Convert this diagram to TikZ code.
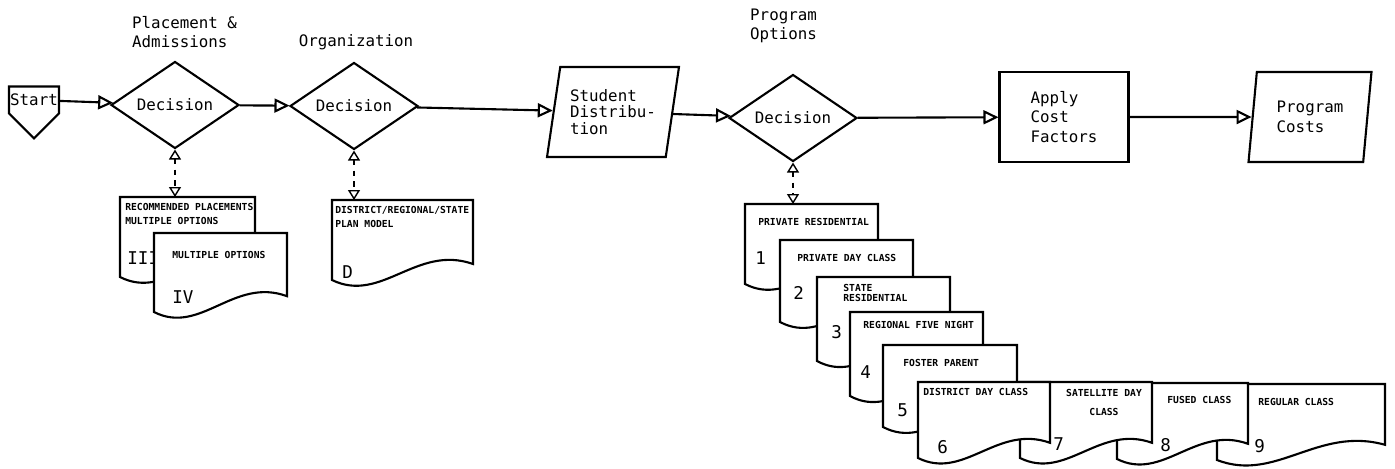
\documentclass[tikz,border=0pt]{standalone}
\usepackage{fontspec}
\setmonofont{DejaVu Sans Mono}
\usepackage{tikz}
\usetikzlibrary{arrows.meta,positioning,shapes.geometric,shapes.symbols,calc}
\tikzset{
    every node/.style={font=\ttfamily\fontsize{9}{11}\selectfont}
}

% sheet with a wavy lower edge: name, top left corner, width, height
\newcommand{\sheet}[4]{%
    \path (#2) coordinate (#1);
    \filldraw[sheetline] (#1) -- ++(#3,0) -- ++(0,{0.8*#4})
        .. controls +({-0.4*#3},{-0.25*#4}) and +({0.35*#3},{0.3*#4}) .. ($(#1)+(0,#4)$) -- cycle;
}

\begin{document}
\begin{tikzpicture}[
    x=0.02cm, y=-0.02cm,
    decision/.style={
        diamond,
        draw,
        line width=1.2pt,
        aspect=1.47,
        inner sep=0pt,
        minimum width=2.56cm,
        minimum height=1.74cm
    },
    iobox/.style={
        trapezium,
        trapezium left angle=77,
        trapezium right angle=103,
        trapezium stretches body,
        draw,
        line width=1.2pt,
        align=left,
        minimum height=1.8cm
    },
    process/.style={
        rectangle,
        draw,
        line width=1.2pt,
        align=left,
        minimum width=2.58cm,
        minimum height=1.8cm
    },
    startbox/.style={
        signal,
        signal to=south,
        draw,
        line width=1.2pt,
        inner xsep=0.5pt,
        inner ysep=0.15cm,
        minimum width=1.0cm
    },
    sheetline/.style={
        draw,
        fill=white,
        line width=1.2pt
    },
    sheettext/.style={
        anchor=west,
        inner sep=0pt,
        align=left,
        font=\ttfamily\bfseries\fontsize{5.5}{7.8}\selectfont
    },
    sheetnum/.style={
        anchor=west,
        inner sep=0pt,
        font=\ttfamily\fontsize{10}{12}\selectfont
    },
    heading/.style={
        align=left
    },
    flow/.style={
        -{Triangle[open,length=0.3cm,width=0.28cm]},
        line width=1.2pt
    },
    link/.style={
        {Triangle[open,length=0.2cm,width=0.24cm]}-{Triangle[open,length=0.2cm,width=0.24cm]},
        dashed,
        line width=0.8pt
    }
]
\useasboundingbox (0,0) rectangle (1395,468);

% Main line
\node[startbox] (start) at (34,100) {Start};
\node[decision] (pa) at (175,105) {Decision};
\node[decision] (org) at (354,106) {Decision};
\node[iobox, minimum width=2.64cm] (stud) at (613,112) {Student\\[-1.5pt]Distribu-\\[-1.5pt]tion};
\node[decision] (opts) at (793,118) {Decision};
\node[process] (apply) at (1064,117) {Apply\\Cost\\Factors};
\node[iobox, minimum width=2.46cm, trapezium left angle=79, trapezium right angle=101] (costs) at (1310,117) {Program\\Costs};

% Headings
\node[heading, anchor=west] (paTitle) at (126,32) {Placement \&\\Admissions};
\node[heading] (orgTitle) at (356,42) {Organization};
\node[heading, anchor=west] (optTitle) at (744,26) {Program\\Options};

\draw[flow] (start) -- (pa);
\draw[flow] (pa) -- (org);
\draw[flow] (org) -- (stud);
\draw[flow] (stud) -- (opts);
\draw[flow] (opts) -- (apply);
\draw[flow] (apply) -- (costs);

% Placement sheets
\sheet{recIII}{120,197}{135}{80}
\node[sheettext] (recText) at (125,214) {RECOMMENDED PLACEMENTS\\MULTIPLE OPTIONS};
\node[sheetnum] (recNum) at (127,258) {III};
\sheet{multIV}{154,233}{133}{79}
\node[sheettext] (multText) at (172,255) {MULTIPLE OPTIONS};
\node[sheetnum] (multNum) at (172,297) {IV};

% Organization sheet
\sheet{planD}{332,200}{141}{80}
\node[sheettext] (planText) at (335,217) {DISTRICT/REGIONAL/STATE\\PLAN MODEL};
\node[sheetnum] (planNum) at (342,272) {D};

% Program option sheets
\sheet{sh1}{745,204}{133}{80}
\node[sheettext] (sh1Text) at (758,222) {PRIVATE RESIDENTIAL};
\node[sheetnum] (sh1Num) at (755,258) {1};
\sheet{sh2}{780,240}{133}{82}
\node[sheettext] (sh2Text) at (797,258) {PRIVATE DAY CLASS};
\node[sheetnum] (sh2Num) at (793,293) {2};
\sheet{sh3}{817,277}{133}{84}
\node[sheettext] (sh3Text) at (843,293) {STATE\\[-2pt]RESIDENTIAL};
\node[sheetnum] (sh3Num) at (831,332) {3};
\sheet{sh4}{850,312}{133}{84}
\node[sheettext] (sh4Text) at (863,325) {REGIONAL FIVE NIGHT};
\node[sheetnum] (sh4Num) at (860,372) {4};
\sheet{sh5}{883,345}{134}{82}
\node[sheettext] (sh5Text) at (903,363) {FOSTER PARENT};
\node[sheetnum] (sh5Num) at (897,410) {5};
\sheet{sh9}{1217,384}{168}{76}
\node[sheettext] (sh9Text) at (1258,402) {REGULAR CLASS};
\node[sheetnum] (sh9Num) at (1254,446) {9};
\sheet{sh8}{1117,383}{131}{76}
\node[sheettext] (sh8Text) at (1167,400) {FUSED CLASS};
\node[sheetnum] (sh8Num) at (1160,445) {8};
\sheet{sh7}{1020,382}{132}{76}
\node[sheettext, anchor=center, align=center] (sh7Text) at (1104,402) {SATELLITE DAY\\[3pt]CLASS};
\node[sheetnum] (sh7Num) at (1053,444) {7};
\sheet{sh6}{918,382}{132}{76}
\node[sheettext] (sh6Text) at (923,392) {DISTRICT DAY CLASS};
\node[sheetnum] (sh6Num) at (937,447) {6};

% Links to the option sheets
\draw[link] (pa.south) -- (pa.south |- recIII);
\draw[link] (org.south) -- (org.south |- planD);
\draw[link] (opts.south) -- (opts.south |- sh1);

\end{tikzpicture}
\end{document}
